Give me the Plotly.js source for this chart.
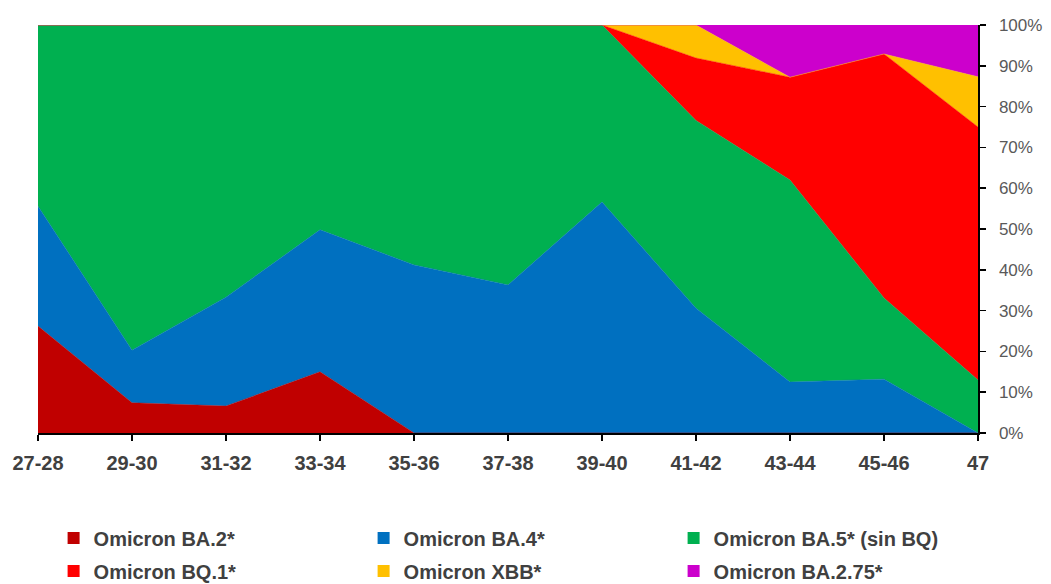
<!DOCTYPE html>
<html>
<head>
<meta charset="utf-8">
<script src="https://cdn.plot.ly/plotly-3.0.1.min.js"></script>
<style>html,body{margin:0;padding:0;background:#fff}#chart{width:1051px;height:584px}</style>
</head>
<body>
<div id="chart"></div>
<script>
var weeks = ["27-28","29-30","31-32","33-34","35-36","37-38","39-40","41-42","43-44","45-46","47"];
var ba2    = [26.2, 7.4, 6.6, 15.0, 0, 0, 0, 0, 0, 0, 0];
var ba4    = [29.4, 12.9, 26.7, 34.8, 41.2, 36.3, 56.6, 30.6, 12.5, 13.2, 0];
var ba5    = [44.4, 79.7, 66.7, 50.2, 58.8, 63.7, 43.4, 46.0, 49.5, 19.9, 13.0];
var bq1    = [0, 0, 0, 0, 0, 0, 0, 15.3, 25.2, 59.8, 62.0];
var xbb    = [0, 0, 0, 0, 0, 0, 0, 8.1, 0, 0, 12.3];
var ba275  = [0, 0, 0, 0, 0, 0, 0, 0, 12.8, 7.1, 12.7];
var seriesNames = ["Omicron BA.2*","Omicron BA.4*","Omicron BA.5* (sin BQ)","Omicron BQ.1*","Omicron XBB*","Omicron BA.2.75*"];
var seriesColors = ["#C00000","#0070C0","#00B050","#FF0000","#FFC000","#CC00CC"];
var seriesValues = [ba2, ba4, ba5, bq1, xbb, ba275];

var traces = [];
seriesValues.forEach(function(vals, i){
  traces.push({
    type:'scatter', mode:'lines', x: weeks, y: vals, stackgroup:'one',
    name: seriesNames[i], showlegend:false,
    line:{width:0.5, color: seriesColors[i]}, fillcolor: seriesColors[i],
    hoverinfo:'skip'
  });
});
// legend-only entries (square swatches), no visible marks; first three in row 1, rest in row 2
seriesNames.forEach(function(n, i){
  traces.push({
    type:'scatter', mode:'markers', x:[weeks[0]], y:[null], name:n,
    marker:{symbol:'square', size:12, color: seriesColors[i]},
    showlegend:true, hoverinfo:'skip',
    legend: i < 3 ? 'legend' : 'legend2'
  });
});

var legFont = {family:'Liberation Sans, Arial, sans-serif', size:20, color:'#404040', weight:'bold'};
function legendAt(yc){
  return {
    orientation:'h', xref:'container', yref:'container',
    x:0.051, xanchor:'left', y:yc, yanchor:'middle',
    entrywidth:265, entrywidthmode:'pixels', traceorder:'normal',
    font:legFont, itemclick:false, bgcolor:'rgba(0,0,0,0)'
  };
}

var layout = {
  width:1051, height:584,
  margin:{l:38, r:73, t:25, b:151},
  paper_bgcolor:'#fff', plot_bgcolor:'#fff',
  showlegend:true,
  xaxis:{
    type:'category', range:[0,10], showgrid:false, zeroline:false,
    showline:true, linecolor:'#000', linewidth:1.5,
    ticks:'outside', ticklen:6, tickcolor:'#000', tickwidth:1.5,
    ticklabelstandoff:5,
    tickfont:{family:'Liberation Sans, Arial, sans-serif', size:20, color:'#404040', weight:'bold'}
  },
  yaxis:{
    side:'right', range:[0,100], dtick:10, ticksuffix:'%',
    showgrid:false, zeroline:false, showline:true, linecolor:'#000', linewidth:1.5,
    ticks:'outside', ticklen:6, tickcolor:'#000', tickwidth:1.5,
    ticklabelstandoff:10,
    tickfont:{family:'Liberation Sans, Arial, sans-serif', size:17, color:'#595959'}
  },
  legend: legendAt(1 - 538/584),
  legend2: legendAt(1 - 571/584)
};
Plotly.newPlot('chart', traces, layout, {displayModeBar:false, staticPlot:true});
</script>
</body>
</html>
